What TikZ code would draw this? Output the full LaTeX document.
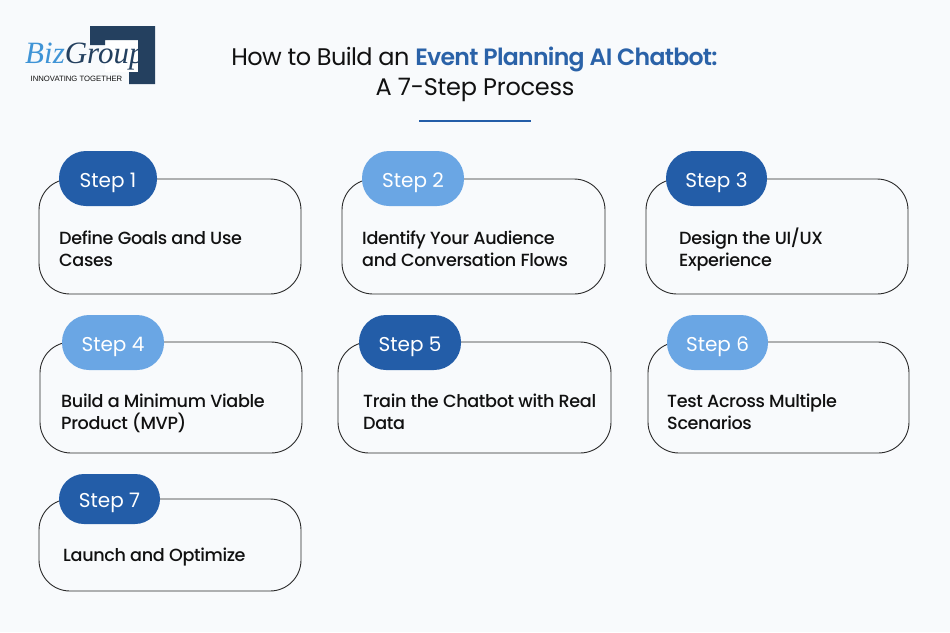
\documentclass[tikz,border=0pt]{standalone}
\usepackage{fontspec}
\setmainfont{Poppins}
\newfontfamily\popmed{Poppins Medium}
\newfontfamily\popsemi{Poppins SemiBold}
\newfontfamily\logofont{Liberation Serif}
\newfontfamily\logosans{Liberation Sans}
\definecolor{bgc}{HTML}{F8FAFC}
\definecolor{dk}{HTML}{235DA8}
\definecolor{lt}{HTML}{6AA6E4}
\definecolor{navy}{HTML}{24405F}
\definecolor{tblue}{HTML}{2A62A8}
\definecolor{lblue}{HTML}{3F94D6}
\definecolor{ink}{HTML}{111111}
\tikzset{
 x=1pt,y=-1pt,
 card/.style={draw=ink!90,line width=0.9pt,rounded corners=31pt,fill=bgc},
 pilld/.style={rounded corners=27pt,fill=dk},
 pilll/.style={rounded corners=27pt,fill=lt},
 steptext/.style={text=white,font=\fontsize{20}{22}\selectfont,anchor=center,inner sep=0pt},
 body/.style={text=ink,font=\popmed\fontsize{17.6}{22}\selectfont\addfontfeatures{LetterSpace=-2},execute at begin node={\lineskiplimit=-20pt\relax},anchor=north west,inner sep=0pt,align=left},
 titlea/.style={text=ink,font=\fontsize{24}{30}\selectfont\addfontfeatures{LetterSpace=-2.5},anchor=base,inner sep=0pt},
 titleb/.style={text=ink,font=\fontsize{24}{30}\selectfont\addfontfeatures{LetterSpace=-1},anchor=base,inner sep=0pt}
}
\newcommand{\ttlblue}{\textcolor{tblue}{\popsemi\fontsize{23.6}{30}\selectfont\addfontfeatures{LetterSpace=-3}Event Planning AI Chatbot:}}
\begin{document}
\begin{tikzpicture}
\useasboundingbox (0,0) rectangle (950,632);
\fill[bgc] (0,0) rectangle (950,632);
% logo
\fill[white] (105,40) rectangle (138,72);
\fill[navy] (90,26) -- (155,26) -- (155,84) -- (129,84) -- (129,72) -- (138,72) -- (138,40) -- (105,40) -- (105,45) -- (90,45) -- cycle;
\node[anchor=base west,inner sep=0pt,font=\logofont\itshape\fontsize{31}{31}\selectfont] (logoname) at (25,63.5) {\textcolor{lblue}{Biz}\textcolor{navy}{Group}};
\node[anchor=base west,inner sep=0pt,font=\logosans\fontsize{7.7}{8}\selectfont,text=ink] (logotag) at (30.5,81) {INNOVATING TOGETHER};
% title
\node[titlea] (title1) at (474.5,65.5) {How to Build an \ttlblue};
\node[titleb] (title2) at (475,95.5) {A 7-Step Process};
\draw[dk,line width=1.5pt] (419,121) -- (531,121);
% cards
\draw[card] (39,179) rectangle (301,294);
\fill[pilld] (59,151) rectangle (157,206);
\node[steptext] (s1) at (108,182.5) {Step 1};
\node[body] (b1) at (59,229) {\strut Define Goals and Use\\Cases};
\draw[card] (342,179) rectangle (605,294);
\fill[pilll] (362,151) rectangle (464,206);
\node[steptext] (s2) at (413,182.5) {Step 2};
\node[body] (b2) at (362,229) {\strut Identify Your Audience\\and Conversation Flows};
\draw[card] (646,179) rectangle (908,294);
\fill[pilld] (666,151) rectangle (767,206);
\node[steptext] (s3) at (716.5,182.5) {Step 3};
\node[body] (b3) at (679,228) {\strut Design the UI/UX\\Experience};
\draw[card] (40,342) rectangle (302,453);
\fill[pilll] (62,315) rectangle (164,370);
\node[steptext] (s4) at (113,346.5) {Step 4};
\node[body] (b4) at (61,392) {\strut Build a Minimum Viable\\Product (MVP)};
\draw[card] (338,342) rectangle (611,453);
\fill[pilld] (359,315) rectangle (461,370);
\node[steptext] (s5) at (410,346.5) {Step 5};
\node[body] (b5) at (363,392) {\strut Train the Chatbot with Real\\Data};
\draw[card] (648,342) rectangle (909,453);
\fill[pilll] (667,315) rectangle (768,370);
\node[steptext] (s6) at (717.5,346.5) {Step 6};
\node[body] (b6) at (667,392) {\strut Test Across Multiple\\Scenarios};
\draw[card] (39,499) rectangle (301,591);
\fill[pilld,rounded corners=25pt] (59,474) rectangle (160,524);
\node[steptext] (s7) at (109.5,502.5) {Step 7};
\node[body] (b7) at (63,546) {\strut Launch and Optimize};
\end{tikzpicture}
\end{document}
